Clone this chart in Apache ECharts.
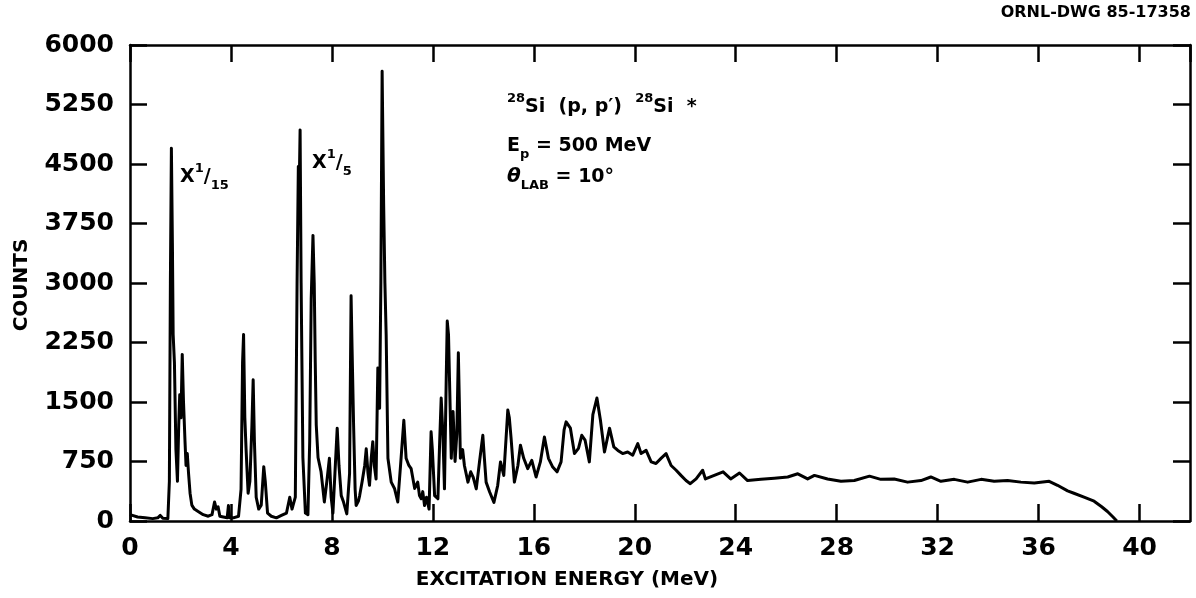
<!DOCTYPE html>
<html>
<head>
<meta charset="utf-8">
<style>
html,body{margin:0;padding:0;background:#fff;}
#chart{width:1196px;height:598px;}
</style>
<script src="https://cdn.jsdelivr.net/npm/echarts@6/dist/echarts.min.js"></script>
</head>
<body>
<div id="chart"></div>
<script>
// Excitation energy (MeV) samples
var energy = [
0.0,0.3,0.6,0.9,1.1,1.2,1.3,1.5,1.56,1.6,1.64,1.68,1.71,1.76,1.82,1.88,1.93,1.97,2.02,2.07,
2.12,2.18,2.22,2.27,2.32,2.38,2.45,2.55,2.7,2.9,3.1,3.25,3.35,3.42,3.49,3.56,3.7,3.85,3.9,3.95,
4.1,4.3,4.4,4.46,4.5,4.55,4.6,4.68,4.75,4.83,4.88,4.93,5.0,5.1,5.2,5.3,5.36,5.45,5.6,5.8,
6.0,6.2,6.33,6.42,6.55,6.62,6.67,6.7,6.74,6.78,6.85,6.95,7.05,7.12,7.18,7.25,7.3,7.34,7.38,7.45,
7.57,7.7,7.8,7.9,7.97,8.04,8.12,8.21,8.28,8.37,8.45,8.59,8.7,8.76,8.8,8.86,8.92,8.96,9.05,9.1,
9.2,9.3,9.36,9.43,9.49,9.56,9.62,9.68,9.75,9.82,9.89,9.94,9.99,10.05,10.1,10.15,10.22,10.35,10.48,10.61,
10.72,10.85,10.94,11.05,11.14,11.28,11.4,11.47,11.54,11.6,11.67,11.75,11.85,11.93,11.98,12.07,12.2,12.27,12.33,12.4,
12.46,12.53,12.57,12.62,12.67,12.73,12.8,12.88,12.95,13.01,13.05,13.09,13.18,13.25,13.39,13.5,13.6,13.72,13.85,13.98,
14.04,14.11,14.25,14.42,14.57,14.68,14.81,14.97,15.03,15.1,15.23,15.37,15.47,15.6,15.76,15.92,16.09,16.26,16.42,16.58,
16.75,16.92,17.08,17.2,17.28,17.45,17.61,17.77,17.9,18.03,18.2,18.34,18.5,18.64,18.8,19.0,19.17,19.33,19.52,19.72,
19.92,20.12,20.25,20.45,20.65,20.84,21.04,21.24,21.44,21.64,21.83,22.03,22.2,22.43,22.69,22.8,23.15,23.5,23.8,24.15,
24.47,25.0,25.53,26.06,26.46,26.85,27.12,27.64,28.17,28.7,29.3,29.75,30.28,30.81,31.34,31.73,32.13,32.66,33.19,33.72,
34.24,34.77,35.3,35.83,36.42,36.75,37.15,37.4,37.8,38.2,38.5,38.73,38.95,39.1
];
// Counts at each energy sample
var counts = [
80,50,40,30,40,70,35,30,500,3000,4700,3500,2350,2000,900,500,1200,1590,1300,2100,
1500,1000,700,850,600,350,200,150,120,80,60,80,240,150,180,60,50,40,195,40,
40,60,400,2000,2350,1300,900,350,500,1200,1780,1000,300,150,200,685,500,100,60,40,
70,100,300,150,300,3000,4470,4100,4930,3000,800,100,80,1000,2800,3600,3000,2000,1210,800,
620,240,500,790,300,100,600,1170,700,320,250,90,600,2840,2160,1200,400,195,250,320,
500,700,910,600,450,800,1000,700,530,1930,1420,3000,5670,4000,3000,2350,790,490,410,240,
700,1270,790,700,660,410,490,320,280,370,195,300,150,1125,900,320,280,1000,1550,1080,
405,1800,2520,2350,1640,790,1380,750,1100,2120,1500,790,900,700,490,620,550,405,750,1080,
800,490,365,235,450,745,575,1400,1300,1040,490,700,955,790,660,765,555,745,1060,790,
680,620,745,1150,1250,1170,850,915,1080,1020,745,1340,1550,1270,870,1170,935,890,850,870,
830,975,850,890,745,725,790,850,700,640,575,510,470,530,640,530,575,620,530,605,
510,525,540,555,595,530,575,530,500,510,565,525,530,490,510,555,500,525,490,525,
500,510,490,480,500,450,380,350,300,250,180,120,50,0
];
// Axis ranges and tick steps
var xRange = [0, 42];
var xStep = 4;
var yRange = [0, 6000];
var yStep = 750;

var FONT = 'DejaVu Sans';
var chart = echarts.init(document.getElementById('chart'), null, {renderer: 'canvas'});

var pairs = energy.map(function (e, i) { return [e, counts[i]]; });

function plain(v) { return String(v); }

function xAxisDef(pos, showLabel) {
  return {
    type: 'value', position: pos, min: xRange[0], max: xRange[1], interval: xStep,
    axisLine: {show: true, onZero: false, lineStyle: {color: '#000', width: 2.5}},
    axisTick: {show: true, inside: true, length: 17, lineStyle: {color: '#000', width: 2.5}},
    axisLabel: {show: showLabel, margin: 15, fontSize: 25, fontWeight: 'bold', fontFamily: FONT, color: '#000',
      showMaxLabel: false, formatter: plain},
    splitLine: {show: false}
  };
}
function yAxisDef(pos, showLabel) {
  return {
    type: 'value', position: pos, min: yRange[0], max: yRange[1], interval: yStep,
    axisLine: {show: true, onZero: false, lineStyle: {color: '#000', width: 2.5}},
    axisTick: {show: true, inside: true, length: 17, lineStyle: {color: '#000', width: 2.5}},
    axisLabel: {show: showLabel, margin: 16, fontSize: 25, fontWeight: 'bold', fontFamily: FONT, color: '#000',
      formatter: plain},
    splitLine: {show: false}
  };
}

var supStyle = {fontSize: 13, fontWeight: 'bold', fontFamily: FONT, fill: '#000', lineHeight: 13, verticalAlign: 'top'};
var subStyle = {fontSize: 13, fontWeight: 'bold', fontFamily: FONT, fill: '#000', lineHeight: 13, verticalAlign: 'bottom'};
var baseStyle = {fontSize: 19, fontWeight: 'bold', fontFamily: FONT, fill: '#000', lineHeight: 30, verticalAlign: 'middle'};
var thStyle = {fontSize: 20, fontWeight: 'bold', fontStyle: 'italic', fontFamily: FONT, fill: '#000', lineHeight: 30, verticalAlign: 'middle'};
var richSet = {sup: supStyle, sub: subStyle, b: baseStyle, th: thStyle};

function richText(x, y, text) {
  return {type: 'text', x: x, y: y, z: 100,
    style: {text: text, rich: richSet, align: 'left', verticalAlign: 'middle', fill: '#000',
      fontSize: 19, fontWeight: 'bold', fontFamily: FONT}};
}

var option = {
  animation: false,
  backgroundColor: '#fff',
  grid: {left: 130, right: 6, top: 45, bottom: 77, containLabel: false},
  xAxis: [xAxisDef('bottom', true), xAxisDef('top', false)],
  yAxis: [yAxisDef('left', true), yAxisDef('right', false)],
  series: [{
    type: 'line', xAxisIndex: 0, yAxisIndex: 0, data: pairs,
    showSymbol: false, symbol: 'none', smooth: false,
    lineStyle: {color: '#000', width: 3, join: 'round'}
  }],
  graphic: [
    {type: 'text', x: 1191, y: 13, style: {text: 'ORNL-DWG 85-17358', align: 'right', verticalAlign: 'middle',
      fontSize: 16, fontWeight: 'bold', fontFamily: FONT, fill: '#000'}},
    {type: 'text', x: 567, y: 580, style: {text: 'EXCITATION ENERGY (MeV)', align: 'center', verticalAlign: 'middle',
      fontSize: 20, fontWeight: 'bold', fontFamily: FONT, fill: '#000'}},
    {type: 'text', x: 22, y: 285, rotation: Math.PI / 2, style: {text: 'COUNTS', align: 'center', verticalAlign: 'middle',
      fontSize: 20, fontWeight: 'bold', fontFamily: FONT, fill: '#000'}},
    richText(507, 107, '{sup|28}{b|Si  (p, p\u2032)  }{sup|28}{b|Si  *}'),
    richText(507, 146, '{b|E}{sub|p}{b| = 500 MeV}'),
    richText(507, 177, '{th|\u03b8}{sub|LAB}{b| = 10\u00b0}'),
    richText(180, 177, '{b|X}{sup|1}{b|/}{sub|15}'),
    richText(312, 163, '{b|X}{sup|1}{b|/}{sub|5}')
  ]
};
chart.setOption(option);
</script>
</body>
</html>
